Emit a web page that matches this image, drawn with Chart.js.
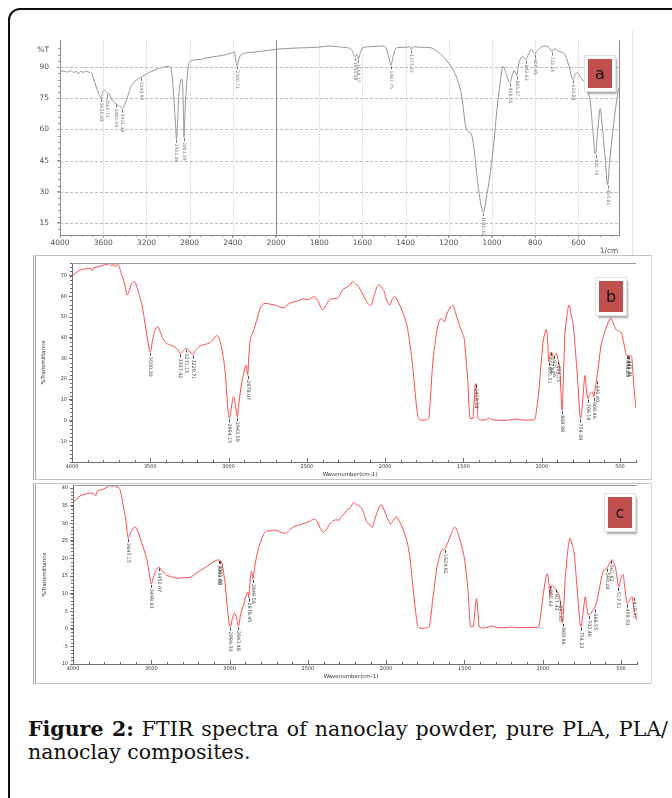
<!DOCTYPE html>
<html>
<head>
<meta charset="utf-8">
<script src="https://cdn.jsdelivr.net/npm/chart.js@4.4.1/dist/chart.umd.min.js"></script>
<style>
  body { margin: 0; width: 672px; height: 798px; overflow: hidden; background: #fff; position: relative; }
  .outer { position: absolute; left: 8px; top: 8px; width: 720px; height: 840px; border: 2px solid #111; border-radius: 12px; }
  .box { position: absolute; }
  canvas { display: block; }
  .pframe { position: absolute; border-top: 1px solid #c4c4c4; border-bottom: 1px solid #c4c4c4; border-right: 1px solid #d8d8d8; border-left: 3px double #a8a8a8; }
  .tag { position: absolute; background: #c0504d; border: 3px solid #fff; outline: 1px solid #e2e2e2;
         box-shadow: 2px 3px 2px rgba(0,0,0,0.35); font: 16px "DejaVu Sans", sans-serif; color: #151515;
         display: flex; align-items: center; justify-content: center; box-sizing: border-box; }
  .caption { position: absolute; left: 28px; top: 718px; width: 640px; font: 20.5px "DejaVu Serif", serif; color: #111; line-height: 23px; }
  .caption .l1 { text-align: justify; text-align-last: justify; }
</style>
</head>
<body>
<div class="outer"></div>
<div style="position:absolute;left:632px;top:30px;width:1px;height:226px;background:#e4e4e4"></div>
<div class="pframe" style="left:33px;top:255px;width:615px;height:223px"></div>
<div class="pframe" style="left:33px;top:483px;width:615px;height:199px"></div>

<div class="box" style="left:20px;top:28px"><canvas id="chartA" width="625" height="232"></canvas></div>
<div class="box" style="left:30px;top:255px"><canvas id="chartB" width="615" height="225"></canvas></div>
<div class="box" style="left:30px;top:480px"><canvas id="chartC" width="615" height="205"></canvas></div>

<div class="tag" style="left:585px;top:56px;width:30px;height:35px">a</div>
<div class="tag" style="left:596px;top:278px;width:30px;height:37px">b</div>
<div class="tag" style="left:605px;top:494px;width:30px;height:37px">c</div>

<div class="caption">
  <div class="l1"><b>Figure 2:</b> FTIR spectra of nanoclay powder, pure PLA, PLA/</div>
  <div>nanoclay composites.</div>
</div>

<script>
// (a) nanoclay powder, %T vs wavenumber (1/cm)
const waveA = [4000, 3960, 3930, 3900, 3870, 3850, 3830, 3810, 3780, 3760, 3735, 3710, 3690, 3665, 3640, 3621,
  3605, 3585, 3570, 3561, 3550, 3520, 3495, 3483, 3460, 3440, 3421, 3400, 3370, 3340, 3308, 3280, 3246, 3220,
  3184, 3120, 3077, 3000, 2975, 2960, 2945, 2930, 2922, 2912, 2900, 2885, 2871, 2862, 2856, 2852, 2846, 2830,
  2812, 2794, 2700, 2646, 2500, 2420, 2385, 2375, 2361, 2345, 2323, 2200, 2000, 1900, 1800, 1751, 1700, 1674,
  1650, 1634, 1626, 1618, 1608, 1597, 1560, 1504, 1490, 1478, 1468, 1458, 1445, 1435, 1390, 1380, 1373, 1366,
  1320, 1288, 1250, 1204, 1165, 1140, 1119, 1096, 1080, 1072, 1055, 1040, 1026, 1015, 1003, 990, 980, 965, 949,
  935, 918, 905, 898, 885, 875, 857, 843, 830, 818, 803, 790, 770, 756, 735, 722, 710, 690, 664, 645, 625, 612,
  604, 590, 569, 555, 546, 535, 521, 510, 499, 490, 475, 465, 455, 441, 428, 416, 412];
const transA = [88.1, 88.0, 87.6, 88.3, 87.4, 88.0, 86.8, 87.9, 87.5, 88.2, 87.6, 87.2, 84.5, 80.5, 77, 75.1,
  78, 78.9, 78, 77, 77.3, 74.5, 72.8, 72.5, 71.5, 71, 70, 72, 76.5, 81, 83, 84.3, 85.3, 86,
  87.2, 88.6, 89.5, 90.3, 89.5, 85, 74, 62, 55.5, 63, 76, 83, 84.2, 78, 65, 56.3, 64, 80,
  90, 92.8, 93.7, 94.4, 95.6, 96.6, 97.3, 94.5, 90.8, 93.5, 96, 97.2, 98.6, 99.2, 99.6, 100.2, 99.6, 99.4,
  98.4, 95, 96.2, 94, 97.5, 99.4, 99.8, 100.2, 99, 95, 90.8, 95, 99, 99.4, 99.6, 99.8, 98.6, 99.8,
  99.5, 99.4, 97.3, 92.4, 85.3, 76, 60.2, 57.8, 48, 39.8, 26, 20.2, 27.2, 34, 43, 55, 66.5, 80, 90.3,
  87, 82.5, 86.5, 88.4, 86, 92, 95, 93.5, 96.5, 98.6, 96.3, 98, 99.7, 100.2, 99.2, 97.5, 98.8, 97.5, 96.3, 91, 84, 87,
  87.2, 85, 82.2, 78, 74.3, 62, 48, 60, 70, 62, 45, 33.5, 45, 58.6, 70, 78.2, 80];
const peakWaveA = [3620.84, 3560.71, 3483.29, 3421.48, 3245.97, 2921.86, 2851.59, 2360.71, 1633.59, 1618.17,
  1467.75, 1373.22, 1040.42, 918.05, 885.37, 842.83, 800.45, 722.26, 624.89, 520.74, 464.81];
const peakTransA = [75.1, 77, 72.5, 70, 85.3, 55.5, 56.3, 90.8, 95, 94, 90.8, 98.6, 20.2, 82.5, 86, 93.5, 96.3, 97.5, 84, 48, 33.5];
const xTicksA = [4000, 3600, 3200, 2800, 2400, 2000, 1800, 1600, 1400, 1200, 1000, 800, 600];
const yTicksA = [15, 30, 45, 60, 75, 90];

// (b) pure PLA, %Transmittance vs wavenumber (cm-1)
const waveB = [4000, 3975, 3947, 3920, 3900, 3880, 3870, 3862, 3840, 3810, 3790, 3777, 3760, 3745, 3735, 3725,
  3713, 3700, 3690, 3674, 3660, 3648, 3638, 3620, 3600, 3590, 3570, 3553, 3532, 3515, 3500, 3485, 3470, 3452,
  3435, 3415, 3395, 3372, 3340, 3325, 3307, 3290, 3271, 3250, 3230, 3210, 3181, 3150, 3117, 3095, 3079, 3064,
  3050, 3036, 3020, 3011, 3002, 2994, 2985, 2968, 2955, 2944, 2935, 2915, 2900, 2887, 2878, 2870, 2862, 2850,
  2836, 2815, 2798, 2766, 2735, 2702, 2670, 2645, 2620, 2596, 2560, 2521, 2490, 2457, 2430, 2410, 2398, 2380,
  2362, 2335, 2308, 2290, 2276, 2250, 2223, 2209, 2190, 2171, 2150, 2135, 2110, 2092, 2070, 2050, 2038, 2020,
  2006, 1990, 1970, 1955, 1938, 1915, 1889, 1870, 1857, 1840, 1825, 1808, 1795, 1786, 1770, 1750, 1735, 1722,
  1710, 1697, 1680, 1665, 1643, 1632, 1622, 1610, 1600, 1585, 1568, 1550, 1526, 1505, 1494, 1484, 1472, 1463,
  1457, 1440, 1432, 1423, 1415, 1406, 1376, 1350, 1333, 1320, 1290, 1250, 1200, 1160, 1120, 1080, 1045, 1030,
  1017, 1005, 991, 980, 970, 962, 955, 948, 938, 928, 917, 906, 895, 885, 878, 870, 862, 853, 840, 825, 812,
  799, 783, 767, 760, 752, 745, 739, 732, 724, 715, 706, 695, 684, 675, 668, 660, 650, 640, 622, 607, 590, 575,
  563, 558, 548, 535, 522, 510, 500, 490, 475, 458, 440, 426, 415, 404, 398];
const transB = [69.5, 71.3, 72.7, 73.2, 73.4, 73.6, 72.2, 73.9, 74.2, 74.8, 75.3, 75.5, 75.7, 74.6, 75.6, 74.3,
  75.2, 74.9, 72, 68.7, 64.5, 60.6, 62, 65.8, 67.1, 65.5, 60.5, 55.8, 46.1, 38, 33.2, 39, 43.5, 45.3,
  42.5, 38.9, 37.2, 36.5, 35.4, 34.2, 32.4, 33.8, 34.8, 33.6, 31.9, 34, 36.1, 36.8, 37.7, 39.5, 41, 40.5,
  37, 31.6, 22, 12.3, 4, 1, 5, 11.5, 7, 1.8, 8, 18.7, 24, 26.8, 21.9, 32, 38.9, 41.5,
  44.5, 50, 54.2, 56.6, 56.2, 55.8, 54.8, 54.5, 56.2, 57.1, 57.8, 58.7, 58.5, 59.8, 58, 54.5, 53.4, 55.5,
  57.7, 58.8, 59, 60.5, 62.6, 64.3, 65.5, 67.1, 66, 64.7, 62, 59.8, 56.5, 55.5, 60.5, 64.8, 65.5, 64,
  62.3, 58, 55.8, 58.5, 59.8, 57, 52.6, 48.5, 44.5, 36, 26.8, 13, 4, 1, 0.2, 0.2, 0.5, 1,
  12, 26.8, 38, 45.3, 49.4, 48.5, 47.7, 50.5, 52.6, 54.5, 55.8, 52, 46.1, 42, 38.9, 30, 18.7, 5,
  1, 1, 9, 17.9, 12, 1, 0.2, 0.6, 1.3, 0.6, 0.2, 0.1, 0.3, 0.8, 0.2, 0.3, 0.5, 7,
  15.5, 27, 38.1, 42, 44.2, 38, 28.4, 31, 33.2, 31, 31.6, 32.4, 29, 25.2, 15, 5, 20, 39.7, 50, 55.8, 51,
  46.1, 32, 15.5, 6, 1, 4.5, 9, 16, 21.9, 15, 10.6, 12.5, 13.5, 13.9, 11.4, 15, 19.5, 25, 36, 40.5, 44.5, 47.5,
  49.2, 49.4, 48, 45.5, 43.7, 43.4, 43, 42.1, 37, 31.6, 31.4, 30.8, 20, 10, 5.8];
const peakWaveB = [3500.30, 3307.42, 3271.15, 3229.71, 2994.15, 2943.59, 2878.07, 1418.58, 955.51, 937.84,
  921.36, 894.15, 869.98, 754.09, 706.18, 668.46, 646.40, 456.20, 449.45, 441.71];
const peakTransB = [33.2, 32.4, 34.8, 31.9, 1, 1.8, 21.9, 17.9, 28.4, 33.2, 31.6, 29, 5, 1, 10.6, 11.4, 19.5, 31.6, 31.5, 31.4];
const yTicksB = [-10, 0, 10, 20, 30, 40, 50, 60, 70];

// (c) PLA/nanoclay composite
const waveC = [4000, 3975, 3953, 3920, 3890, 3870, 3855, 3846, 3820, 3790, 3761, 3745, 3735, 3725, 3714, 3705,
  3697, 3685, 3675, 3665, 3655, 3647, 3635, 3620, 3605, 3595, 3580, 3559, 3540, 3527, 3512, 3500, 3488, 3470,
  3452, 3430, 3410, 3399, 3370, 3335, 3300, 3270, 3250, 3220, 3186, 3150, 3122, 3100, 3090, 3069, 3062, 3047,
  3035, 3026, 3012, 3000, 2994, 2985, 2968, 2955, 2943, 2930, 2908, 2895, 2883, 2878, 2870, 2860, 2850, 2840,
  2823, 2800, 2781, 2760, 2738, 2715, 2695, 2670, 2642, 2615, 2589, 2560, 2525, 2490, 2461, 2440, 2420, 2400,
  2385, 2360, 2343, 2321, 2301, 2285, 2269, 2250, 2226, 2209, 2190, 2160, 2140, 2128, 2110, 2090, 2070, 2050,
  2032, 2015, 2000, 1985, 1972, 1955, 1936, 1915, 1893, 1875, 1861, 1845, 1829, 1812, 1797, 1780, 1765, 1745,
  1726, 1712, 1701, 1690, 1679, 1665, 1647, 1635, 1626, 1615, 1605, 1585, 1562, 1545, 1530, 1515, 1498, 1488,
  1477, 1468, 1461, 1444, 1435, 1423, 1414, 1406, 1380, 1350, 1327, 1300, 1250, 1200, 1150, 1100, 1060, 1028,
  1010, 996, 984, 970, 960, 953, 947, 942, 930, 921, 906, 895, 889, 880, 874, 866, 857, 845, 835, 825, 812, 799,
  785, 771, 763, 756, 749, 743, 736, 729, 720, 707, 695, 686, 676, 671, 663, 654, 640, 625, 611, 600, 589, 575,
  565, 557, 546, 536, 525, 515, 505, 495, 487, 478, 470, 461, 450, 440, 429, 420, 408, 402];
const transC = [35.9, 37, 37.8, 38.3, 38.6, 38.5, 37.8, 39.1, 39.5, 40.1, 40.7, 40.5, 40.9, 40.2, 40.4, 40,
  39.2, 36.5, 34, 31.7, 28, 25.8, 27, 28.3, 28.9, 28.7, 27, 24.2, 21.5, 19.4, 15.5, 12.8, 14.5, 16.6,
  17.5, 16.4, 15.6, 15.2, 14.8, 14.4, 14.5, 14.6, 14.7, 15.6, 16.6, 17.6, 18.5, 19.1, 19.4, 19.6, 19.5, 18.5,
  15, 11.9, 5, 1, 0.6, 2.5, 4.5, 3, 0.8, 4, 7.2, 9.4, 10.5, 8.9, 13, 16.4, 14.2, 17.5,
  21.5, 25, 27, 27.8, 27.9, 28.1, 27.9, 27.4, 27.2, 28.2, 29.1, 29.4, 30, 30.5, 31.2, 30.5, 28.5, 27.5,
  28, 29.8, 30.6, 31, 30.9, 32, 32.6, 33.8, 34.5, 35.9, 35.4, 34.5, 32.5, 30.9, 29.8, 28.9, 31.5, 34,
  35.3, 34, 32.2, 30.8, 29.8, 30.8, 31.9, 30.5, 28.4, 26, 23.7, 19, 11.9, 5, 0.6, 0.2, 0.1, 0.3,
  0.6, 4.5, 9.1, 12.5, 16.6, 19.6, 22.3, 22.5, 22.7, 23.6, 24.6, 27, 28.9, 27.6, 25.6, 23, 19.4, 15.5,
  10.9, 4, 0.6, 0.6, 4.5, 8.6, 5, 0.6, 0.2, 0.5, 0.8, 0.4, 0.3, 0.5, 0.3, 0.4, 0.4, 0.4,
  5, 10, 13.5, 15.7, 12.5, 9.1, 11.5, 12.4, 12, 11.4, 10.5, 9.5, 8.1, 4, 1.7, 6, 13.8, 20, 24, 25.8, 23.8, 21.3,
  14, 6.2, 2, 0.6, 2, 4.3, 7, 9.1, 6.5, 3.9, 4.3, 4.8, 5.5, 5.8, 6.5, 8.1, 11, 14.5, 16.6, 17, 17.4, 18.5,
  19.4, 19.6, 18.8, 17.5, 14.5, 11.9, 13.5, 15, 15.5, 12.5, 9.5, 7.2, 7.8, 8.6, 9.1, 6.5, 3.8, 2.5];
const peakWaveC = [3647.15, 3499.93, 3452.07, 3068.88, 3061.60, 2994.30, 2943.48, 2878.45, 2849.58, 1624.92,
  955.60, 917.43, 891.65, 869.96, 754.23, 702.46, 668.55, 590.28, 561.82, 517.51, 459.50, 419.71];
const peakTransC = [25.8, 12.8, 17.5, 19.6, 19.5, 0.6, 0.8, 8.9, 14.2, 22.7, 12.5, 11.4, 8.1, 1.7, 0.6, 3.9, 5.8, 17.4, 19.6, 11.9, 7.2, 9.1];
const yTicksC = [-10, -5, 0, 5, 10, 15, 20, 25, 30, 35, 40];

const xTicksBC = [4000, 3500, 3000, 2500, 2000, 1500, 1000, 500];

// panel (a) uses the split scale of the instrument: 4000-2000 at half scale
function toU(w) { return w >= 2000 ? (4000 - w) / 2 : 1000 + (2000 - w); }
function fromU(u) { return u <= 1000 ? 4000 - 2 * u : 2000 - (u - 1000); }

const SANS = 'DejaVu Sans, sans-serif';

function seg(ctx, x1, y1, x2, y2) {
  ctx.beginPath(); ctx.moveTo(x1, y1); ctx.lineTo(x2, y2); ctx.stroke();
}

function decorPlugin(o) {
  return {
    id: 'decor',
    beforeDatasetsDraw(chart) {
      if (!o.grid) return;
      const { ctx, chartArea: a, scales: { x, y } } = chart;
      ctx.save();
      ctx.lineWidth = 1;
      ctx.strokeStyle = '#bdbdbd';
      ctx.setLineDash([1, 2]);
      o.gridX.forEach(v => {
        const px = Math.round(x.getPixelForValue(v)) + 0.5;
        seg(ctx, px, a.top, px, a.bottom);
      });
      ctx.setLineDash([3, 2]);
      o.gridY.forEach(v => {
        const py = Math.round(y.getPixelForValue(v)) + 0.5;
        seg(ctx, a.left, py, a.right, py);
      });
      ctx.setLineDash([]);
      ctx.strokeStyle = '#8a8a8a';
      o.solidX.forEach(v => {
        const px = Math.round(x.getPixelForValue(v)) + 0.5;
        seg(ctx, px, a.top, px, a.bottom);
      });
      ctx.restore();
    },
    afterDatasetsDraw(chart) {
      const { ctx, chartArea: a, scales: { x, y } } = chart;
      ctx.save();
      ctx.lineWidth = 1;
      ctx.strokeStyle = o.tickColor;

      // minor ticks on x
      for (let v = o.minorX[0]; v <= o.minorX[1]; v += o.minorX[2]) {
        const px = Math.round(x.getPixelForValue(v)) + 0.5;
        if (px < a.left - 1 || px > a.right + 1) continue;
        if (o.inwardX) seg(ctx, px, a.bottom, px, a.bottom - 2);
        else seg(ctx, px, a.bottom, px, a.bottom + 2);
      }
      if (o.inwardX) {
        o.majorX.forEach(v => {
          const px = Math.round(x.getPixelForValue(v)) + 0.5;
          seg(ctx, px, a.bottom, px, a.bottom - 4);
        });
      }
      // minor ticks on y
      for (let v = o.minorY[0]; v <= o.minorY[1]; v += o.minorY[2]) {
        const py = Math.round(y.getPixelForValue(v)) + 0.5;
        seg(ctx, a.left, py, a.left - 2, py);
      }
      // frame lines
      ctx.strokeStyle = o.frameColor;
      if (o.topLine) seg(ctx, a.left, Math.round(a.top) + 0.5, a.right, Math.round(a.top) + 0.5);
      if (o.rightLine) seg(ctx, Math.round(a.right) + 0.5, a.top, Math.round(a.right) + 0.5, a.bottom);

      // peak labels
      ctx.fillStyle = o.peakColor;
      ctx.strokeStyle = o.peakColor;
      ctx.font = o.peakFont;
      ctx.textBaseline = 'middle';
      ctx.textAlign = 'left';
      o.peakX.forEach((v, i) => {
        const px = Math.round(x.getPixelForValue(v)) + 0.5;
        const py = y.getPixelForValue(o.peakY[i]);
        seg(ctx, px, py + 1, px, py + 4);
        ctx.save();
        ctx.translate(px, py + 5);
        ctx.rotate(Math.PI / 2);
        ctx.fillText(o.peakText[i], 0, 0);
        ctx.restore();
      });

      // axis texts
      ctx.fillStyle = o.textColor;
      ctx.font = o.textFont;
      if (o.mode === 'a') {
        ctx.textAlign = 'right';
        ctx.fillText('%T', a.left - 11, y.getPixelForValue(98.1));
        ctx.textAlign = 'center';
        ctx.fillText('1/cm', a.right - 10, a.bottom + 16);
      } else {
        ctx.textAlign = 'center';
        ctx.fillText('Wavenumber(cm-1)', (a.left + a.right) / 2 - 4, a.bottom + 13);
        ctx.save();
        ctx.translate(a.left - 28, (a.top + a.bottom) / 2);
        ctx.rotate(-Math.PI / 2);
        ctx.fillText('%Transmittance', 0, 0);
        ctx.restore();
      }
      ctx.restore();
    }
  };
}

function lineSet(xs, ys, color) {
  return {
    data: xs.map((v, i) => ({ x: v, y: ys[i] })),
    borderColor: color,
    borderWidth: 1,
    pointRadius: 0,
    cubicInterpolationMode: 'monotone',
    fill: false
  };
}

// ---- chart (a) ----
new Chart(document.getElementById('chartA'), {
  type: 'line',
  data: { datasets: [lineSet(waveA.map(toU), transA, '#959595')] },
  options: {
    responsive: false,
    animation: false,
    layout: { padding: { top: 8, right: 26, left: 0, bottom: 0 } },
    plugins: { legend: { display: false }, tooltip: { enabled: false } },
    scales: {
      x: {
        type: 'linear', min: 0, max: toU(412),
        afterBuildTicks: s => { s.ticks = xTicksA.map(w => ({ value: toU(w) })); },
        afterFit: s => { s.height = 25; },
        ticks: { callback: v => String(fromU(v)), font: { family: SANS, size: 7.5 }, color: '#505050', padding: 1, maxRotation: 0, autoSkip: false },
        grid: { drawOnChartArea: false, tickLength: 3, color: '#999' },
        border: { color: '#8a8a8a' }
      },
      y: {
        min: 9.2, max: 102.8,
        afterBuildTicks: s => { s.ticks = yTicksA.map(v => ({ value: v })); },
        afterFit: s => { s.width = 40; },
        ticks: { font: { family: SANS, size: 7.5 }, color: '#505050', padding: 8 },
        grid: { drawOnChartArea: false, tickLength: 3, color: '#999' },
        border: { color: '#8a8a8a' }
      }
    }
  },
  plugins: [decorPlugin({
    mode: 'a', grid: true,
    gridX: xTicksA.map(toU).filter(u => u > 0 && u !== 1000),
    solidX: [toU(2000)],
    gridY: yTicksA,
    minorX: [0, 2590, 50], inwardX: false, majorX: [],
    minorY: [12, 99, 3],
    tickColor: '#999', frameColor: '#8a8a8a', topLine: false, rightLine: true,
    peakX: peakWaveA.map(toU), peakY: peakTransA, peakText: peakWaveA.map(v => v.toFixed(2)),
    peakColor: '#7a7a7a', peakFont: '4.5px ' + SANS,
    textColor: '#505050', textFont: '7.5px ' + SANS
  })]
});

// ---- charts (b) and (c) ----
function redChart(id, wave, trans, yTicks, yMin, yMax, dims, peaksX, peaksY, minorStepY) {
  return new Chart(document.getElementById(id), {
    type: 'line',
    data: { datasets: [lineSet(wave, trans, '#ff4a4a')] },
    options: {
      responsive: false,
      animation: false,
      layout: { padding: { top: dims.top, right: dims.right, left: 0, bottom: 0 } },
      plugins: { legend: { display: false }, tooltip: { enabled: false } },
      scales: {
        x: {
          type: 'linear', reverse: true, min: 398, max: 4000,
          afterBuildTicks: s => { s.ticks = xTicksBC.map(v => ({ value: v })); },
          afterFit: s => { s.height = dims.xh; },
          ticks: { callback: v => String(v), font: { family: SANS, size: 5 }, color: '#333', padding: 2, maxRotation: 0, autoSkip: false },
          grid: { drawOnChartArea: false, drawTicks: false },
          border: { color: '#6e6e6e' }
        },
        y: {
          min: yMin, max: yMax,
          afterBuildTicks: s => { s.ticks = yTicks.map(v => ({ value: v })); },
          afterFit: s => { s.width = dims.yw; },
          ticks: { font: { family: SANS, size: 5 }, color: '#333', padding: 2 },
          grid: { drawOnChartArea: false, tickLength: 3, color: '#6e6e6e' },
          border: { color: '#6e6e6e' }
        }
      }
    },
    plugins: [decorPlugin({
      mode: 'bc', grid: false,
      minorX: [400, 4000, 100], inwardX: true, majorX: xTicksBC,
      minorY: [yMin, yMax, minorStepY],
      tickColor: '#6e6e6e', frameColor: '#9a9a9a', topLine: true, rightLine: false,
      peakX: peaksX, peakY: peaksY, peakText: peaksX.map(v => v.toFixed(2)),
      peakColor: '#444', peakFont: '4.8px ' + SANS,
      textColor: '#333', textFont: '5.5px ' + SANS
    })]
  });
}

redChart('chartB', waveB, transB, yTicksB, -20, 76.1, { top: 8, right: 9, xh: 18, yw: 42 }, peakWaveB, peakTransB, 2);
redChart('chartC', waveC, transC, yTicksC, -10, 40.9, { top: 4, right: 8, xh: 21, yw: 43 }, peakWaveC, peakTransC, 1);
</script>
</body>
</html>
